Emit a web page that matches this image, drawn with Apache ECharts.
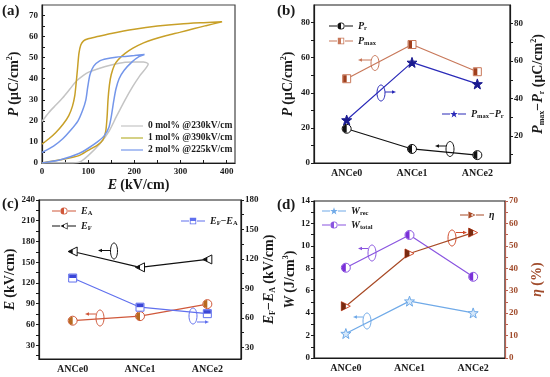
<!DOCTYPE html>
<html><head><meta charset="utf-8">
<script src="https://cdn.jsdelivr.net/npm/echarts@6/dist/echarts.min.js"></script>
<style>html,body{margin:0;padding:0;background:#fff}#c{width:550px;height:377px}</style>
</head><body><div id="c"></div>
<script>
// ---------- DATA ----------
const categories = ['ANCe0', 'ANCe1', 'ANCe2'];
const loopNames = ['0 mol% @230kV/cm', '1 mol% @390kV/cm', '2 mol% @225kV/cm'];
// P-E loops [E (kV/cm), P (uC/cm2)]
const loop0 = [[0,0],[60,0],[82,0.5],[100,3.5],[125,9],[145,15],[161,22],[180,30],[197,36.5],[212,41.5],[230,47],
  [220,48],[200,48],[180,47.8],[150,46.5],[125,45],[100,43],[89,41.5],[75,39],[60,35],[45,31],[30,27.5],[15,24],[0,19.7]];
const loop1 = [[0,0],[40,1.5],[80,3.5],[100,6],[120,8.5],[132,11],[138,15],[141,22],[143,30],[146,37],[150,42],[157,46.5],[165,49],[180,52],[197,54.5],[220,57],[240,58.6],[270,60.5],[298,62],[330,63.8],[355,65.2],[390,67],
  [350,66.6],[300,66],[250,65],[200,63.5],[150,61.5],[120,60],[100,59],[90,58],[84,56],[80,52],[77,45],[74,38],[71,32],[66,27],[58,22.5],[46,18.5],[30,14.5],[15,11.5],[0,9]];
const loop2 = [[0,0],[40,1.5],[80,4.5],[100,7],[120,10],[135,13],[145,17],[150,22],[155,29],[160,35],[167,40],[178,44],[195,48],[210,50.5],[222,51.5],
  [200,51],[180,50.6],[160,50.2],[140,49.5],[125,48.5],[112,46],[104,42],[99,36],[95,30],[88,25],[78,20],[62,15.5],[45,11.5],[25,8],[0,5]];
const Pr = [19.5, 8, 4.5];
const Pmax = [48, 67.5, 52];
const PmaxMinusPr = [28.5, 59.3, 47.8];
const EA = [65.4, 72, 89.4];
const EF = [165.5, 142.6, 154];
const EFminusEA = [100.5, 70.8, 64.2];
const Wrec = [2.18, 5.07, 4.02];
const Wtotal = [8.05, 10.97, 7.24];
const eta = [23.1, 46.6, 55.9];
// tick labels
const ticksAx = [0, 100, 200, 300, 400];
const ticksAy = [0, 10, 20, 30, 40, 50, 60, 70];
const ticksBl = [0, 20, 40, 60, 80];
const ticksBr = [20, 40, 60, 80];
const ticksCl = [30, 60, 90, 120, 150, 180, 210, 240];
const ticksCr = [30, 60, 90, 120, 150, 180];

// ---------- STYLE ----------
const F = '"Times New Roman","Liberation Serif",serif';
const K = '#1a1a1a';
const nameRich = {
  i: {fontFamily: F, fontWeight: 'bold', fontStyle: 'italic', fontSize: 14, lineHeight: 16},
  n: {fontFamily: F, fontWeight: 'bold', fontSize: 14, lineHeight: 16},
  sup: {fontFamily: F, fontWeight: 'bold', fontSize: 8, lineHeight: 9, verticalAlign: 'top'},
  sub: {fontFamily: F, fontWeight: 'bold', fontSize: 8, lineHeight: 8, verticalAlign: 'bottom'}
};
const legRich = {
  i: {fontFamily: F, fontWeight: 'bold', fontStyle: 'italic', fontSize: 10, lineHeight: 12},
  n: {fontFamily: F, fontWeight: 'bold', fontSize: 10, lineHeight: 12},
  s: {fontFamily: F, fontWeight: 'bold', fontSize: 6.5, lineHeight: 6, verticalAlign: 'bottom'}
};
const legLabels = {
  Pr: '{i|P}{s|r}', Pmax: '{i|P}{s|max}', PmPr: '{i|P}{s|max}{n|−}{i|P}{s|r}',
  EA: '{i|E}{s|A}', EF: '{i|E}{s|F}', EFEA: '{i|E}{s|F}{n|−}{i|E}{s|A}',
  Wrec: '{i|W}{s|rec}', Wtotal: '{i|W}{s|total}', eta: '{i|η}'
};

// symbols
const STAR = 'path://M10 0L12.36 6.76L19.51 6.91L13.8 11.24L15.88 18.09L10 14L4.12 18.09L6.2 11.24L0.49 6.91L7.64 6.76Z';
const TRI_L = 'path://M0 10L20 0L20 20Z';
const TRI_R = 'path://M0 0L20 10L0 20Z';
const HALF = {
  circL: 'path://M0 0M20 20M10 0A10 10 0 0 0 10 20Z',
  rectL: 'path://M0 0M20 20M0 0H10V20H0Z',
  rectT: 'path://M0 0M20 20M0 0H20V10H0Z',
  triL: 'path://M0 0M20 20M0 10L10 5L10 15Z',
  triR: 'path://M0 0M20 20M0 0L10 5L10 15L0 20Z'
};
const LSEG = 'M0 4.4H10V5.6H0Z M20 4.4H30V5.6H20Z ';
const ICON = {
  circL: 'path://' + LSEG + 'M10.5 5A4.5 4.5 0 1 1 19.5 5A4.5 4.5 0 1 1 10.5 5Z M11.6 5A3.4 3.4 0 1 0 18.4 5A3.4 3.4 0 1 0 11.6 5Z M15 1.6A3.4 3.4 0 0 0 15 8.4Z M0 0M30 10',
  rectL: 'path://' + LSEG + 'M11 1H19V9H11Z M12 2V8H18V2Z M12 2V8H15V2Z M0 0M30 10',
  rectT: 'path://' + LSEG + 'M11 1H19V9H11Z M12 2V8H18V2Z M12 2V5H18V2Z M0 0M30 10',
  triL: 'path://' + LSEG + 'M10.5 5L19.5 0.5L19.5 9.5Z M12.6 5L18.6 8L18.6 2Z M12.6 5L15 6.2L15 3.8Z M0 0M30 10',
  triR: 'path://' + LSEG + 'M10.5 0.5L19.5 5L10.5 9.5Z M11.4 2L11.4 8L17.4 5Z M11.4 2L11.4 8L14.4 6.5L14.4 3.5Z M0 0M30 10',
  star: 'path://' + LSEG + 'M15 0.3L16.18 3.68L19.76 3.75L16.9 5.92L17.94 9.35L15 7.3L12.06 9.35L13.1 5.92L10.24 3.75L13.82 3.68Z M0 0M30 10',
  line: 'path://M0 4.2H30V5.8H0Z M0 0M30 10'
};

function valAxis(o) {
  return Object.assign({
    type: 'value', scale: false,
    axisLine: {show: true, lineStyle: {color: o.color || K, width: 1.2}},
    axisTick: {show: true, inside: !!o.inside, length: 3, customValues: o.tickVals, lineStyle: {color: o.color || K}},
    axisLabel: {customValues: o.labels, fontFamily: F, fontWeight: 'bold', fontSize: 9, color: o.labelColor || K, margin: o.margin || 4},
    splitLine: {show: false},
    nameLocation: 'middle', nameRotate: o.rot, nameGap: o.gap,
    nameTextStyle: {rich: nameRich, color: o.nameColor || K}
  }, o.extra || {});
}
function range(a, b, s) { const r = []; for (let v = a; v <= b + 1e-9; v += s) r.push(+v.toFixed(6)); return r; }
function catAxis(g) {
  return {
    type: 'category', gridIndex: g, data: categories, boundaryGap: true,
    axisLine: {lineStyle: {color: K, width: 1.2}},
    axisTick: {alignWithLabel: true, length: 3, lineStyle: {color: K}},
    axisLabel: {fontFamily: F, fontWeight: 'bold', fontSize: 10, color: K, margin: 5}
  };
}
function mainSeries(name, x, y, data, color, symbol, size, fill, border, lw) {
  return {
    name, type: 'line', xAxisIndex: x, yAxisIndex: y, data, z: 2,
    lineStyle: {color, width: lw || 1.2}, symbol, symbolSize: size,
    itemStyle: {color: fill || '#fff', borderColor: border || color, borderWidth: 1},
    emphasis: {disabled: true}, animation: false
  };
}
function fillSeries(name, x, y, data, color, symbol, size) {
  return {
    name: name + '_fill', type: 'line', xAxisIndex: x, yAxisIndex: y, data, z: 3, silent: true,
    lineStyle: {opacity: 0, width: 0}, symbol, symbolSize: size,
    itemStyle: {color, borderWidth: 0}, emphasis: {disabled: true}, animation: false
  };
}
function li(name, icon, color) {
  return {name, icon, itemStyle: {color, borderWidth: 0, borderColor: 'transparent'}};
}
function legend(data, left, top, gap) {
  return {
    data, left, top, orient: 'vertical', itemGap: gap || 4, itemWidth: 24, itemHeight: 8,
    selectedMode: false, padding: 0,
    formatter: n => legLabels[n], textStyle: {rich: legRich, fontFamily: F, fontWeight: 'bold', fontSize: 10, color: K}
  };
}

// annotations (ellipse + arrow)
function annot(cx, cy, rx, ry, color, x1, x2, ay) {
  const dir = x2 < x1 ? -1 : 1;
  return [
    {type: 'ellipse', shape: {cx, cy, rx, ry}, style: {fill: 'none', stroke: color, lineWidth: 1}, silent: true},
    {type: 'line', shape: {x1, y1: ay, x2: x2 - dir * 2, y2: ay}, style: {stroke: color, lineWidth: 1}, silent: true},
    {type: 'polygon', shape: {points: [[x2, ay], [x2 - dir * 4, ay - 1.8], [x2 - dir * 4, ay + 1.8]]}, style: {fill: color}, silent: true}
  ];
}
function ptext(t, x, y) {
  return {type: 'text', left: x, top: y, style: {text: t, font: 'bold 15px ' + F, fill: K}, silent: true};
}

const chart = echarts.init(document.getElementById('c'), null, {renderer: 'canvas'});
const C = {
  prK: '#111111', pmax: '#c8785a', pmaxFill: '#a0401e', pmpr: '#2a2ab8', pmprFill: '#1a1a90',
  ea: '#d0583a', eaFill: '#b86a20', ef: '#111111', efea: '#6070ee', efeaFill: '#3a46d8',
  wrec: '#70aae8', wtot: '#8a55e0', wtotFill: '#7a30d8', eta: '#a84a26', etaFill: '#7a2a10'
};
const loopColors = ['#c4c4c4', '#c8a028', '#7496ea'];

const option = {
  backgroundColor: '#fff',
  animation: false,
  grid: [
    {left: 42, top: 5, width: 193, height: 158, show: true, borderColor: '#444', borderWidth: 1.2},
    {left: 314, top: 5, width: 196, height: 158, show: true, borderColor: K, borderWidth: 1.2},
    {left: 39, top: 200, width: 202, height: 159, show: true, borderColor: K, borderWidth: 1.2},
    {left: 314, top: 201, width: 191, height: 157, show: true, borderColor: K, borderWidth: 1.2}
  ],
  xAxis: [
    valAxis({labels: ticksAx, tickVals: range(0, 400, 50), inside: true, gap: 14,
      extra: {gridIndex: 0, min: 0, max: 418, name: '{i|E} {n|(kV/cm)}', nameRotate: 0}}),
    catAxis(1), catAxis(2), catAxis(3)
  ],
  yAxis: [
    valAxis({labels: ticksAy, tickVals: range(0, 70, 5), inside: true, rot: 90, gap: 20,
      extra: {gridIndex: 0, min: 0, max: 75, name: '{i|P} {n|(μC/cm}{sup|2}{n|)}'}}),
    valAxis({labels: ticksBl, tickVals: range(0, 80, 10), rot: 90, gap: 18,
      extra: {gridIndex: 1, min: 0, max: 90, name: '{i|P} {n|(μC/cm}{sup|2}{n|)}'}}),
    valAxis({labels: ticksBr, tickVals: range(10, 80, 10), rot: 90, gap: 20,
      extra: {gridIndex: 1, position: 'right', min: 5.5, max: 90, name: '{i|P}{sub|max}{n|−}{i|P}{sub|r} {n|(μC/cm}{sup|2}{n|)}'}}),
    valAxis({labels: ticksCl, tickVals: range(15, 240, 15), rot: 90, gap: 20,
      extra: {gridIndex: 2, min: 10, max: 240, name: '{i|E} {n|(kV/cm)}'}}),
    valAxis({labels: ticksCr, tickVals: range(30, 180, 15), rot: 90, gap: 20,
      extra: {gridIndex: 2, position: 'right', min: 18, max: 180, name: '{i|E}{sub|F}{n|−}{i|E}{sub|A} {n|(kV/cm)}'}}),
    valAxis({labels: range(0, 14, 2), tickVals: range(0, 14, 1), rot: 90, gap: 16,
      extra: {gridIndex: 3, min: 0, max: 14, name: '{i|W} {n|(J/cm}{sup|3}{n|)}'}}),
    valAxis({labels: range(0, 70, 10), tickVals: range(0, 70, 5), rot: 90, gap: 24, color: '#b86050', labelColor: '#a04a2a', nameColor: '#a04a2a',
      extra: {gridIndex: 3, position: 'right', min: 0, max: 70, name: '{i|η} {n|(%)}'}})
  ],
  legend: [
    {data: [li(loopNames[0], ICON.line, '#c4c4c4'), li(loopNames[1], ICON.line, '#b8b030'), li(loopNames[2], ICON.line, '#7496ea')],
      left: 121, top: 121, orient: 'vertical', itemGap: 2, itemWidth: 22, itemHeight: 8, selectedMode: false, padding: 0,
      textStyle: {fontFamily: F, fontWeight: 'bold', fontSize: 9.5, color: K}},
    legend([li('Pr', ICON.circL, C.prK), li('Pmax', ICON.rectL, C.pmax)], 329, 21, 4),
    legend([li('PmPr', ICON.star, C.pmpr)], 442, 109),
    legend([li('EA', ICON.circL, C.ea), li('EF', ICON.triL, C.ef)], 52, 206, 4),
    legend([li('EFEA', ICON.rectT, C.efea)], 181, 216),
    legend([li('Wrec', ICON.star, C.wrec), li('Wtotal', ICON.circL, C.wtot)], 322, 206, 3),
    legend([li('eta', ICON.triR, C.eta)], 460, 210)
  ],
  series: [
    {name: loopNames[0], type: 'line', xAxisIndex: 0, yAxisIndex: 0, data: loop0, symbol: 'none', smooth: 0.25, lineStyle: {color: loopColors[0], width: 1.5}, itemStyle: {color: loopColors[0]}},
    {name: loopNames[1], type: 'line', xAxisIndex: 0, yAxisIndex: 0, data: loop1, symbol: 'none', smooth: 0.25, lineStyle: {color: loopColors[1], width: 1.5}, itemStyle: {color: loopColors[1]}},
    {name: loopNames[2], type: 'line', xAxisIndex: 0, yAxisIndex: 0, data: loop2, symbol: 'none', smooth: 0.25, lineStyle: {color: loopColors[2], width: 1.5}, itemStyle: {color: loopColors[2]}},

    mainSeries('Pr', 1, 1, Pr, C.prK, 'circle', 9),
    fillSeries('Pr', 1, 1, Pr, C.prK, HALF.circL, 8),
    mainSeries('Pmax', 1, 1, Pmax, C.pmax, 'rect', 8),
    fillSeries('Pmax', 1, 1, Pmax, C.pmaxFill, HALF.rectL, 7),
    mainSeries('PmPr', 1, 2, PmaxMinusPr, C.pmpr, STAR, 10, C.pmprFill, C.pmprFill),

    mainSeries('EA', 2, 3, EA, C.ea, 'circle', 9),
    fillSeries('EA', 2, 3, EA, C.eaFill, HALF.circL, 8),
    mainSeries('EF', 2, 3, EF, C.ef, TRI_L, 9),
    fillSeries('EF', 2, 3, EF, C.ef, HALF.triL, 9),
    mainSeries('EFEA', 2, 4, EFminusEA, C.efea, 'rect', 8),
    fillSeries('EFEA', 2, 4, EFminusEA, C.efeaFill, HALF.rectT, 7),

    mainSeries('Wrec', 3, 5, Wrec, C.wrec, STAR, 10, '#d6e8fa', C.wrec),
    mainSeries('Wtotal', 3, 5, Wtotal, C.wtot, 'circle', 9),
    fillSeries('Wtotal', 3, 5, Wtotal, C.wtotFill, HALF.circL, 8),
    mainSeries('eta', 3, 6, eta, C.eta, TRI_R, 9, '#fff', '#d04a2a'),
    fillSeries('eta', 3, 6, eta, C.etaFill, HALF.triR, 9)
  ],
  graphic: [
    ptext('(a)', 2, 4), ptext('(b)', 277, 4), ptext('(c)', 2, 197), ptext('(d)', 277, 198),
    ...annot(375, 63, 4, 7.5, C.pmax, 371, 358, 60),
    ...annot(381, 93, 4, 8, C.pmpr, 385, 396, 92),
    ...annot(450, 149, 4, 7.5, C.prK, 446, 435, 146),
    ...annot(114, 251, 3.5, 8, C.ef, 110, 98, 250.5),
    ...annot(100, 318, 4, 8, C.ea, 96, 85, 314),
    ...annot(193, 316, 4, 8, C.efea, 197, 209, 322),
    ...annot(372, 253, 4, 8, C.wtot, 368, 358, 248.5),
    ...annot(367, 321, 4, 8, C.wrec, 363, 353, 317),
    ...annot(452, 238, 4, 8, '#d04a2a', 456, 467, 232.5)
  ]
};
chart.setOption(option);
</script>
</body></html>
